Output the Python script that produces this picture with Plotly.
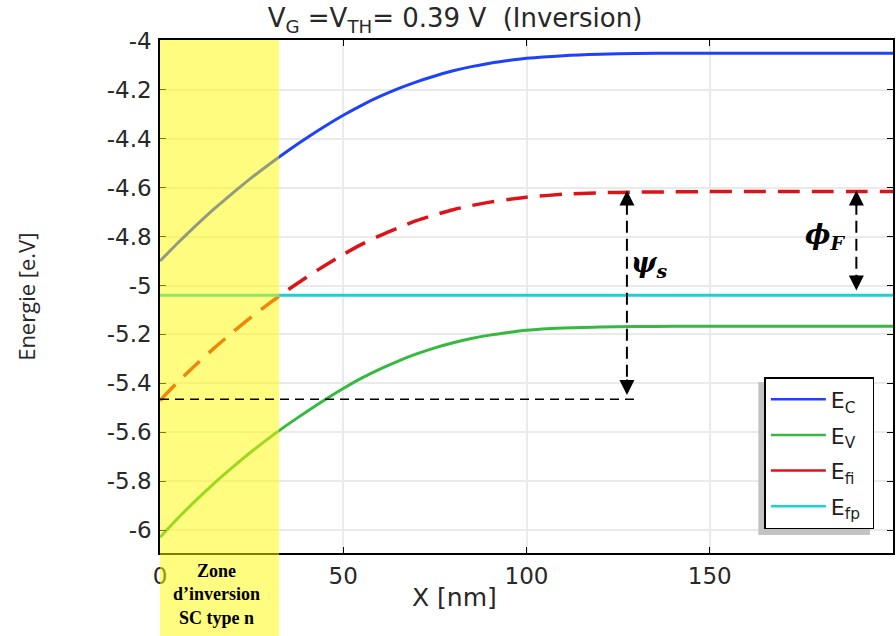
import plotly.graph_objects as go

# ---- data ----
x_nm = [0, 5, 10, 15, 20, 25, 30, 35, 40, 45, 50, 55, 60, 65, 70, 75, 80, 85, 90, 95,
        100, 110, 120, 130, 140, 150, 160, 170, 180, 190, 200]
E_c = [-4.900, -4.824, -4.752, -4.684, -4.620, -4.559, -4.502, -4.448, -4.397, -4.349,
       -4.304, -4.263, -4.227, -4.195, -4.167, -4.143, -4.122, -4.105, -4.091, -4.080,
       -4.071, -4.060, -4.054, -4.051, -4.050, -4.050, -4.050, -4.050, -4.050, -4.050, -4.050]
E_v = [-6.030, -5.950, -5.876, -5.806, -5.741, -5.679, -5.621, -5.567, -5.516, -5.467,
       -5.421, -5.379, -5.342, -5.309, -5.280, -5.255, -5.234, -5.217, -5.203, -5.192,
       -5.183, -5.174, -5.170, -5.168, -5.167, -5.167, -5.167, -5.167, -5.167, -5.167, -5.167]
E_fi = [-5.470, -5.393, -5.321, -5.253, -5.189, -5.128, -5.071, -5.017, -4.966, -4.918,
        -4.873, -4.832, -4.796, -4.764, -4.735, -4.711, -4.690, -4.673, -4.659, -4.648,
        -4.639, -4.627, -4.621, -4.618, -4.617, -4.616, -4.616, -4.616, -4.616, -4.616, -4.616]
E_fp = [-5.040] * len(x_nm)

series_names = ["E<sub>C</sub>", "E<sub>V</sub>", "E<sub>fi</sub>", "E<sub>fp</sub>"]
series_colors = ["rgb(30,65,250)", "rgb(55,185,65)", "rgb(220,20,25)", "rgb(25,210,215)"]

y_ticks = [-4.0, -4.2, -4.4, -4.6, -4.8, -5.0, -5.2, -5.4, -5.6, -5.8, -6.0]
y_ticklabels = ["-4", "-4.2", "-4.4", "-4.6", "-4.8", "-5", "-5.2", "-5.4", "-5.6", "-5.8", "-6"]
x_ticks = [0, 50, 100, 150]
x_ticklabels = ["0", "50", "100", "150"]

zone_end = 32.5          # nm, inversion zone
psi_x = 127.4            # nm, psi_s arrow position
phi_x = 190.0            # nm, phi_F arrow position
surface_Efi = -5.465     # Efi at the surface
bulk_Efi = -4.612

X_MAX = 200.0
Y_MIN, Y_MAX = -6.094, -3.996

fig = go.Figure()

dashes = ["solid", "solid", "22px,12px", "solid"]
widths = [3, 3, 3.5, 3]
for name, ys, col, d, w in zip(series_names, [E_c, E_v, E_fi, E_fp], series_colors, dashes, widths):
    fig.add_trace(go.Scatter(x=x_nm, y=ys, mode="lines", name=name, showlegend=False,
                             line=dict(color=col, width=w, dash=d, shape="spline", smoothing=0.6)))
# legend entries (solid samples)
for i, (name, col) in enumerate(zip(series_names, series_colors)):
    fig.add_trace(go.Scatter(x=[None], y=[None], mode="lines", name=name + "\u00a0",
                             legendgroup=str(i), line=dict(color=col, width=2.5)))

shapes = []
# yellow inversion zone (drawn on top, translucent)
shapes.append(dict(type="rect", xref="paper", yref="paper", x0=0, x1=zone_end / X_MAX,
                   y0=-0.2, y1=1, fillcolor="rgb(255,250,0)", opacity=0.5,
                   line=dict(width=0), layer="above"))
# horizontal dashed line at surface Efi
shapes.append(dict(type="line", xref="x", yref="y", x0=0, x1=129.8, y0=surface_Efi, y1=surface_Efi,
                   line=dict(color="black", width=1.6, dash="9px,6px"), layer="above"))
# vertical dashed lines for psi_s and phi_F
shapes.append(dict(type="line", xref="x", yref="y", x0=psi_x, x1=psi_x, y0=bulk_Efi - 0.05,
                   y1=surface_Efi + 0.04, line=dict(color="black", width=2, dash="12px,6px")))
shapes.append(dict(type="line", xref="x", yref="y", x0=phi_x, x1=phi_x, y0=bulk_Efi - 0.05,
                   y1=-4.98, line=dict(color="black", width=2, dash="12px,6px")))
# legend shadow (offset left/down)
shapes.append(dict(type="rect", xref="paper", yref="paper", x0=0.8163, x1=0.9687,
                   y0=0.035, y1=0.3333, fillcolor="rgb(195,195,195)", line=dict(width=0),
                   layer="above"))

annotations = []
arrow_common = dict(xref="x", yref="y", text="", showarrow=True, arrowhead=2,
                    arrowsize=1.5, arrowwidth=2, arrowcolor="black", ax=0)
annotations.append(dict(x=psi_x, y=bulk_Efi, ay=17, **arrow_common))
annotations.append(dict(x=psi_x, y=-5.448, ay=-17, **arrow_common))
annotations.append(dict(x=phi_x, y=bulk_Efi, ay=17, **arrow_common))
annotations.append(dict(x=phi_x, y=-5.02, ay=-17, **arrow_common))

annotations.append(dict(x=133.5, y=-4.915, xref="x", yref="y", showarrow=False,
                        text="<b><i>ψ<sub>s</sub></i></b>",
                        font=dict(family="DejaVu Serif", size=27, color="black")))
annotations.append(dict(x=181.5, y=-4.80, xref="x", yref="y", showarrow=False,
                        text="<b><i>ϕ<sub>F</sub></i></b>",
                        font=dict(family="DejaVu Serif", size=27, color="black")))
annotations.append(dict(x=15.5, y=-0.08, xref="x", yref="paper", showarrow=False,
                        xanchor="center", yanchor="middle",
                        text="<b>Zone<br>d’inversion<br>SC type n</b>", align="center",
                        font=dict(family="Liberation Serif", size=18, color="black")))
annotations.append(dict(x=80.3, y=-0.0877, xref="x", yref="paper", showarrow=False,
                        xanchor="center", yanchor="middle",
                        text="X [nm]", font=dict(family="DejaVu Sans", size=25, color="rgb(40,40,40)")))
annotations.append(dict(x=-0.1837, y=0.5, xref="paper", yref="paper", showarrow=False,
                        text="Energie [e.V]", textangle=-90, xanchor="center", yanchor="middle",
                        font=dict(family="Open Sans", size=22, color="rgb(40,40,40)")))

fig.update_layout(
    width=896, height=636,
    margin=dict(l=160, r=1, t=40, b=83),
    paper_bgcolor="white", plot_bgcolor="white",
    title=dict(text="V<sub>G</sub> =V<sub>TH</sub>= 0.39 V \u00a0(Inversion)",
               x=455 / 896, xref="container", xanchor="center",
               y=1 - 18 / 636, yref="container", yanchor="middle",
               font=dict(family="DejaVu Sans", size=26, color="rgb(40,40,40)")),
    xaxis=dict(range=[0, X_MAX], tickvals=x_ticks, ticktext=x_ticklabels,
               showline=True, linecolor="black", linewidth=1.5, mirror="ticks",
               ticks="inside", ticklen=6, tickcolor="black", tickwidth=1.2,
               showgrid=True, gridcolor="rgb(234,234,234)", gridwidth=1.5, zeroline=False,
               tickfont=dict(family="DejaVu Sans", size=23, color="rgb(40,40,40)"),
               ticklabelstandoff=2),
    yaxis=dict(range=[Y_MIN, Y_MAX], tickvals=y_ticks, ticktext=y_ticklabels,
               showline=True, linecolor="black", linewidth=1.5, mirror="ticks",
               ticks="inside", ticklen=6, tickcolor="black", tickwidth=1.2,
               showgrid=True, gridcolor="rgb(234,234,234)", gridwidth=1.5, zeroline=False,
               tickfont=dict(family="DejaVu Sans", size=23, color="rgb(40,40,40)"),
               ticklabelstandoff=2),
    legend=dict(x=0.8245, y=0.343, xanchor="left", yanchor="top",
                bgcolor="white", bordercolor="black", borderwidth=1.5,
                font=dict(family="DejaVu Sans", size=22, color="rgb(30,30,30)"),
                tracegroupgap=4, itemwidth=55),
    shapes=shapes,
    annotations=annotations,
)

fig.write_html("out.html", config={"displayModeBar": False},
               post_script="document.body.style.margin='0';")
